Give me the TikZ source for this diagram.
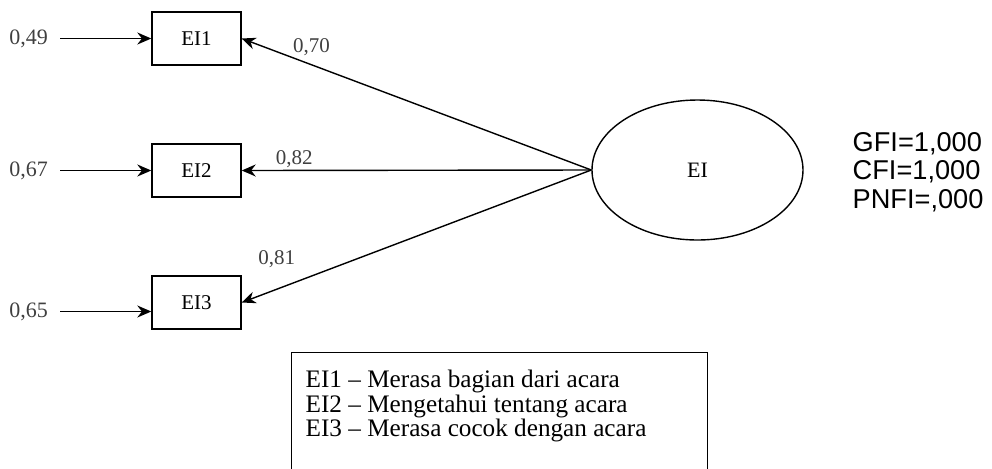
\documentclass[tikz,border=0pt]{standalone}
\usepackage{fontspec}
\setmainfont{Liberation Serif}
\newfontfamily\fitfont{Liberation Sans}
\usetikzlibrary{arrows.meta, positioning, shapes.geometric}

\begin{document}
\begin{tikzpicture}[
						x=0.5pt, y=-0.5pt,
						node distance=66pt,
						line width=0.7pt,
						>={Stealth[length=7pt, width=6pt]},
						item/.style = {draw, rectangle, minimum width=44.5pt, minimum height=26.5pt, inner sep=0pt, font=\fontsize{10.5}{12}\selectfont},
						latent/.style = {draw, ellipse, minimum width=105.5pt, minimum height=70pt, inner sep=0pt, font=\fontsize{11}{13}\selectfont},
						err/.style = {text=black!75, inner sep=1pt, font=\fontsize{11}{13}\selectfont},
						coef/.style = {text=black!75, inner sep=1pt, font=\fontsize{10.5}{12}\selectfont},
						keyframe/.style = {draw, rectangle, minimum width=208pt, minimum height=70pt, inner sep=0pt},
						keytext/.style = {align=left, inner sep=0pt, font=\fontsize{12.6}{12.3}\selectfont},
						gof/.style = {align=left, inner sep=0pt, font=\fitfont\fontsize{13.6}{14.2}\selectfont}
					]
\clip (0,0) rectangle (992,468);

\node[item] (m1) at (196.5,38.5) {EI1};
\node[item] (m2) [below of=m1] {EI2};
\node[item] (m3) [below of=m2] {EI3};
\node[latent] (ei) at (697.5,170) {EI};

\node[err] (e1) [left of=m1, node distance=84pt] {0,49};
\node[err] (e2) [left of=m2, node distance=84pt] {0,67};
\node[err] (e3) [left of=m3, node distance=84pt, yshift=-4.5pt] {0,65};

\node[gof, anchor=west] (fit) at (852,172) {GFI=1,000\\CFI=1,000\\PNFI=,000};

\node[keyframe, anchor=north west] (frame) at (291,352) {};
\node[keytext, anchor=west] (key) at (305,406) {EI1 -- Merasa bagian dari acara\\EI2 -- Mengetahui tentang acara\\EI3 -- Merasa cocok dengan acara};

\draw[->, shorten <=5pt] (e1) -- (e1 -| m1.west);
\draw[->, shorten <=5pt] (e2) -- (e2 -| m2.west);
\draw[->, shorten <=5pt] (e3) -- (e3 -| m3.west);

\draw[->] (ei.west) -- (m1.east) node[coef, pos=0.8, above=3pt] {0,70};
\draw[->] (ei.west) -- (m2.east) node[coef, pos=0.85, above=0pt] {0,82};
\draw[->] (ei.west) -- (m3.east) node[coef, pos=0.9, above=9.5pt] {0,81};
\end{tikzpicture}
\end{document}
